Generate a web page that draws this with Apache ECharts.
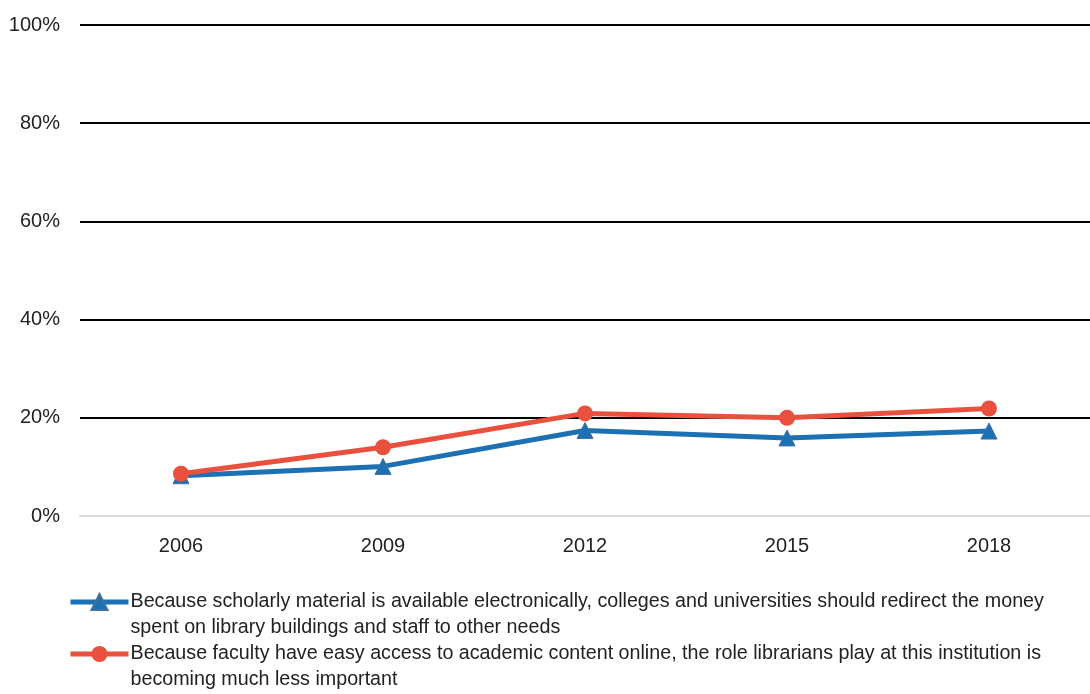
<!DOCTYPE html>
<html>
<head>
<meta charset="utf-8">
<script src="https://cdn.jsdelivr.net/npm/echarts@6/dist/echarts.min.js"></script>
<style>html,body{margin:0;padding:0;background:#fff}#c{width:1090px;height:694px}</style>
</head>
<body>
<div id="c"></div>
<script>
const years = ['2006', '2009', '2012', '2015', '2018'];
const seriesNames = [
  'Because scholarly material is available electronically, colleges and universities should redirect the money spent on library buildings and staff to other needs',
  'Because faculty have easy access to academic content online, the role librarians play at this institution is becoming much less important'
];
const redirectMoney = [8.2, 10.1, 17.4, 15.9, 17.3];
const librariansLessImportant = [8.6, 14.0, 20.9, 20.0, 21.9];

const FONT = '"Liberation Sans", Arial, sans-serif';
const LEGEND_FONT_SIZE = 19.7;
const LEGEND_WIDTH = 925;

// word-wrap helper (measures with canvas) so wrapped lines have no leading space
const ctx = document.createElement('canvas').getContext('2d');
ctx.font = LEGEND_FONT_SIZE + 'px ' + FONT;
function wrap(text, maxW) {
  const words = text.split(' ');
  const lines = [];
  let cur = '';
  for (const w of words) {
    const test = cur ? cur + ' ' + w : w;
    if (ctx.measureText(test).width > maxW && cur) { lines.push(cur); cur = w; }
    else cur = test;
  }
  if (cur) lines.push(cur);
  return lines.join('\n');
}

const chart = echarts.init(document.getElementById('c'));
chart.setOption({
  animation: false,
  grid: { left: 80, right: -5, top: 25, bottom: 178 },
  xAxis: {
    type: 'category',
    data: years,
    boundaryGap: true,
    axisLine: { lineStyle: { color: '#d9d9d9', width: 2 } },
    axisTick: { show: false },
    axisLabel: { margin: 20, fontSize: 20, color: '#222', fontFamily: FONT }
  },
  yAxis: {
    type: 'value',
    min: 0, max: 100, interval: 20,
    axisLine: { show: false },
    axisTick: { show: false },
    axisLabel: { margin: 20, fontSize: 20, color: '#222', fontFamily: FONT, formatter: '{value}%' },
    splitLine: { lineStyle: { color: ['#d9d9d9', '#000', '#000', '#000', '#000', '#000'], width: 2 } }
  },
  legend: {
    orient: 'vertical',
    left: 68,
    top: 563,
    padding: 0,
    itemWidth: 58,
    itemHeight: 20,
    itemGap: -26,
    lineStyle: { width: 5 },
    formatter: function (name) { return '\n' + wrap(name, LEGEND_WIDTH); },
    textStyle: {
      fontSize: LEGEND_FONT_SIZE, color: '#222', fontFamily: FONT,
      lineHeight: 26, padding: [0, 0, 0, -3]
    },
    data: seriesNames
  },
  series: [
    {
      name: seriesNames[0],
      type: 'line',
      data: redirectMoney,
      symbol: 'triangle',
      symbolSize: 16,
      lineStyle: { color: '#1c70b4', width: 5 },
      itemStyle: { color: '#1c70b4', borderColor: '#41719c', borderWidth: 1 },
      z: 2
    },
    {
      name: seriesNames[1],
      type: 'line',
      data: librariansLessImportant,
      symbol: 'circle',
      symbolSize: 16,
      lineStyle: { color: '#e9503e', width: 5 },
      itemStyle: { color: '#e9503e' },
      z: 3
    }
  ]
});
</script>
</body>
</html>
